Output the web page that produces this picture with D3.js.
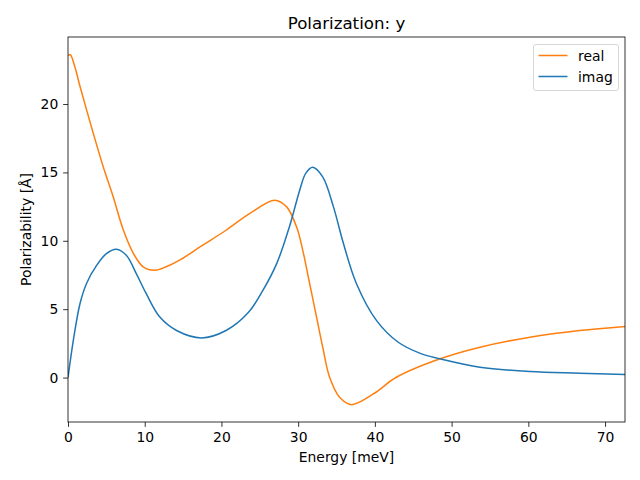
<!DOCTYPE html>
<html><head><meta charset="utf-8">
<script src="https://cdn.jsdelivr.net/npm/d3@7"></script>
<style>body{margin:0;background:#fff}svg{display:block}text{font-family:"DejaVu Sans",sans-serif;fill:#000}</style>
</head><body><svg id="c" width="640" height="480"></svg>
<script>
const title = "Polarization: y";
const xLabel = "Energy [meV]";
const yLabel = "Polarizability [Å]";
const xTicks = [0,10,20,30,40,50,60,70];
const yTicks = [0,5,10,15,20];
const realE = [0,0.3,0.9,1.56,3.3,4.6,5.9,7.2,8.5,9.8,11.3,12.8,14.6,17.2,20.6,23.7,26.95,28.5,29.8,30.6,31.5,32.4,33.2,34.1,35.4,36.95,39.8,42.8,48.5,53.7,60.2,66.7,72.6];
const realV = [23.55,23.6,22.7,21.3,17.85,15.4,13.2,10.8,9.1,8.1,7.85,8.1,8.6,9.55,10.77,12.0,12.97,12.48,11.0,9.3,6.86,4.42,2.22,0.02,-1.44,-1.98,-1.2,0.02,1.37,2.22,2.95,3.44,3.74];
const imagE = [0,0.69,1.56,2.43,3.73,5.0,6.3,7.6,8.9,10.2,11.97,14.15,17.4,20.6,23.5,25.4,27.2,28.9,30.2,31.0,31.9,33.2,34.6,35.9,37.6,40.2,43.0,46.0,48.5,53.7,60.2,66.7,72.6];
const imagV = [0,2.7,5.4,6.9,8.2,9.06,9.38,8.94,7.6,6.13,4.42,3.44,2.9,3.44,4.75,6.37,8.33,11.1,13.7,14.95,15.38,14.67,12.48,9.8,6.86,4.18,2.6,1.75,1.37,0.76,0.44,0.32,0.22];
const seriesNames = ["real","imag"];
const colors = ["#ff7f0e","#1f77b4"];

const svg = d3.select("#c");
const L=68,R=625,T=37,B=422;
const x = d3.scaleLinear().domain([0,72.6]).range([L,R]);
const y = d3.scaleLinear().domain([-3.25,24.9]).range([B,T]);

svg.append("clipPath").attr("id","cp").append("rect").attr("x",L).attr("y",T).attr("width",R-L).attr("height",B-T);
const line = d3.line().x(d=>x(d[0])).y(d=>y(d[1])).curve(d3.curveCatmullRom.alpha(0.5));
const data = [d3.zip(realE,realV), d3.zip(imagE,imagV)];
data.forEach((d,i)=>{
  svg.append("path").attr("d",line(d)).attr("fill","none").attr("stroke",colors[i]).attr("stroke-width",1.5).attr("clip-path","url(#cp)");
});

const fs = 13.9;
const xa = svg.append("g").attr("transform",`translate(0,${B})`).call(d3.axisBottom(x).tickValues(xTicks).tickSize(4.86).tickPadding(4.86).tickSizeOuter(0));
const ya = svg.append("g").attr("transform",`translate(${L},0)`).call(d3.axisLeft(y).tickValues(yTicks).tickSize(4.86).tickPadding(4.86).tickSizeOuter(0));
[xa,ya].forEach(a=>{a.select(".domain").remove();a.selectAll("text").attr("font-size",fs).attr("font-family","DejaVu Sans").attr("fill","#000");a.selectAll("line").attr("stroke","#000").attr("stroke-width",0.8);});

svg.append("rect").attr("x",L).attr("y",T).attr("width",R-L).attr("height",B-T).attr("fill","none").attr("stroke","#000").attr("stroke-width",0.8);

svg.append("text").attr("x",(L+R)/2).attr("y",28.5).attr("text-anchor","middle").attr("font-size",16.67).text(title);
svg.append("text").attr("x",(L+R)/2).attr("y",462).attr("text-anchor","middle").attr("font-size",fs).text(xLabel);
svg.append("text").attr("transform",`translate(30.5,${(T+B)/2}) rotate(-90)`).attr("text-anchor","middle").attr("font-size",fs).text(yLabel);

const lg = svg.append("g");
lg.append("rect").attr("x",533.5).attr("y",44.5).attr("width",85).attr("height",46).attr("rx",2.5).attr("fill","#fff").attr("fill-opacity",0.8).attr("stroke","#ccc").attr("stroke-width",0.8);
seriesNames.forEach((n,i)=>{
  const yy = 55.5 + i*21;
  lg.append("line").attr("x1",538.5).attr("x2",567.5).attr("y1",yy).attr("y2",yy).attr("stroke",colors[i]).attr("stroke-width",1.5);
  lg.append("text").attr("x",578).attr("y",yy+5).attr("font-size",fs).text(n);
});
</script></body></html>
